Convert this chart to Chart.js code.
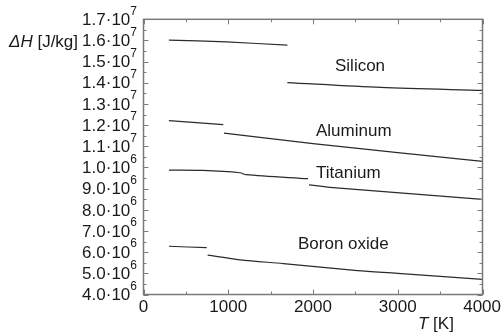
<!DOCTYPE html>
<html>
<head>
<meta charset="utf-8">
<script src="https://cdn.jsdelivr.net/npm/chart.js@4/dist/chart.umd.min.js"></script>
<style>
  html, body { margin: 0; padding: 0; background: #fff; }
  #wrap { width: 502px; height: 334px; }
</style>
</head>
<body>
<div id="wrap"><canvas id="chart-enthalpy" width="502" height="334"></canvas></div>
<script>
// Temperatures [K] and enthalpies [J/kg]
var siliconSolidT   = [300, 980, 1697];
var siliconSolidH   = [1.602e7, 1.593e7, 1.578e7];
var siliconLiquidT  = [1697, 2800, 4000];
var siliconLiquidH  = [1.401e7, 1.378e7, 1.364e7];

var aluminumSolidT  = [300, 942];
var aluminumSolidH  = [1.221e7, 1.202e7];
var aluminumLiquidT = [950, 2000, 4000];
var aluminumLiquidH = [1.162e7, 1.113e7, 1.029e7];

var titaniumSolidT  = [300, 700, 1139, 1209, 1941];
var titaniumSolidH  = [9.875e6, 9.86e6, 9.75e6, 9.66e6, 9.47e6];
var titaniumLiquidT = [1953, 2200, 3024, 4000];
var titaniumLiquidH = [9.18e6, 9.06e6, 8.80e6, 8.49e6];

var boronSolidT     = [300, 746];
var boronSolidH     = [6.28e6, 6.21e6];
var boronLiquidT    = [757, 1140, 1650, 2525, 3000, 4000];
var boronLiquidH    = [5.86e6, 5.64e6, 5.46e6, 5.13e6, 5.00e6, 4.71e6];

var materialNames   = ['Silicon', 'Aluminum', 'Titanium', 'Boron oxide'];

// tick labels: mantissa and exponent, bottom (4e6) to top (1.7e7)
var yTickMantissa = ['4.0', '5.0', '6.0', '7.0', '8.0', '9.0', '1.0', '1.1', '1.2', '1.3', '1.4', '1.5', '1.6', '1.7'];
var yTickExponent = ['6', '6', '6', '6', '6', '6', '6', '7', '7', '7', '7', '7', '7', '7'];
var xTickLabels   = ['0', '1000', '2000', '3000', '4000'];

function pts(t, h) {
  return t.map(function(v, i) { return { x: v, y: h[i] }; });
}

function seg(t, h) {
  return {
    data: pts(t, h),
    borderColor: '#2b2b2b',
    borderWidth: 1.2,
    pointRadius: 0,
    fill: false,
    tension: 0.3
  };
}

var FONT = '"Liberation Sans", Arial, sans-serif';

// box, inward ticks, tick labels, axis titles, curve names
var decorations = {
  id: 'decorations',
  afterDraw: function(chart) {
    var ctx = chart.ctx;
    var a = chart.chartArea;
    var xs = chart.scales.x, ys = chart.scales.y;
    ctx.save();

    ctx.strokeStyle = '#7a7a7a';
    ctx.lineWidth = 1.5;
    ctx.strokeRect(a.left, a.top, a.right - a.left, a.bottom - a.top);

    ctx.lineWidth = 1;
    ctx.beginPath();
    for (var t = 0; t <= 4000; t += 500) {
      var px = Math.round(xs.getPixelForValue(t)) + 0.5;
      var len = (t % 1000 === 0) ? 5 : 3;
      ctx.moveTo(px, a.bottom); ctx.lineTo(px, a.bottom - len);
      ctx.moveTo(px, a.top); ctx.lineTo(px, a.top + len);
    }
    for (var h = 4e6; h <= 1.7e7; h += 5e5) {
      var py = Math.round(ys.getPixelForValue(h)) + 0.5;
      var l2 = (Math.round(h / 5e5) % 2 === 0) ? 5 : 3;
      ctx.moveTo(a.left, py); ctx.lineTo(a.left + l2, py);
      ctx.moveTo(a.right, py); ctx.lineTo(a.right - l2, py);
    }
    ctx.stroke();

    ctx.fillStyle = '#1a1a1a';

    // y tick labels with superscript exponent
    ctx.textBaseline = 'middle';
    yTickMantissa.forEach(function(m, i) {
      var y = ys.getPixelForValue(4e6 + i * 1e6);
      ctx.font = '12px ' + FONT;
      var ew = ctx.measureText(yTickExponent[i]).width;
      var right = 137;
      ctx.textAlign = 'left';
      ctx.fillText(yTickExponent[i], right - ew, y - 8);
      ctx.font = '17px ' + FONT;
      ctx.textAlign = 'right';
      ctx.fillText(m + '\u00b710', right - ew, y + 1);
    });

    // x tick labels
    ctx.font = '17px ' + FONT;
    ctx.textAlign = 'center';
    xTickLabels.forEach(function(lbl, i) {
      var x = xs.getPixelForValue(i * 1000);
      if (i === xTickLabels.length - 1) x = Math.min(x, 502 - ctx.measureText(lbl).width / 2 - 1);
      ctx.fillText(lbl, x, 307);
    });

    // axis titles
    ctx.textBaseline = 'alphabetic';
    ctx.textAlign = 'left';
    ctx.font = 'italic 17px ' + FONT;
    ctx.fillText('\u0394H', 9, 47);
    var w1 = ctx.measureText('\u0394H').width;
    ctx.font = '17px ' + FONT;
    ctx.fillText(' [J/kg]', 9 + w1, 47);

    ctx.font = 'italic 17px ' + FONT;
    ctx.fillText('T', 418, 329);
    var w2 = ctx.measureText('T').width;
    ctx.font = '17px ' + FONT;
    ctx.fillText(' [K]', 418 + w2, 329);

    // curve names
    ctx.fillText(materialNames[0], 335, 71);
    ctx.fillText(materialNames[1], 316, 136);
    ctx.fillText(materialNames[2], 316, 178);
    ctx.fillText(materialNames[3], 298, 249);

    ctx.restore();
  }
};

var enthalpyChart = new Chart(document.getElementById('chart-enthalpy').getContext('2d'), {
  type: 'line',
  data: {
    datasets: [
      seg(siliconSolidT, siliconSolidH),
      seg(siliconLiquidT, siliconLiquidH),
      seg(aluminumSolidT, aluminumSolidH),
      seg(aluminumLiquidT, aluminumLiquidH),
      seg(titaniumSolidT, titaniumSolidH),
      seg(titaniumLiquidT, titaniumLiquidH),
      seg(boronSolidT, boronSolidH),
      seg(boronLiquidT, boronLiquidH)
    ]
  },
  options: {
    responsive: false,
    maintainAspectRatio: false,
    animation: false,
    layout: { padding: { left: 143.5, right: 19.5, top: 19.3, bottom: 39.5 } },
    plugins: { legend: { display: false }, tooltip: { enabled: false } },
    scales: {
      x: { type: 'linear', display: false, min: 0, max: 4000 },
      y: { type: 'linear', display: false, min: 4e6, max: 1.7e7 }
    }
  },
  plugins: [decorations]
});
</script>
</body>
</html>
